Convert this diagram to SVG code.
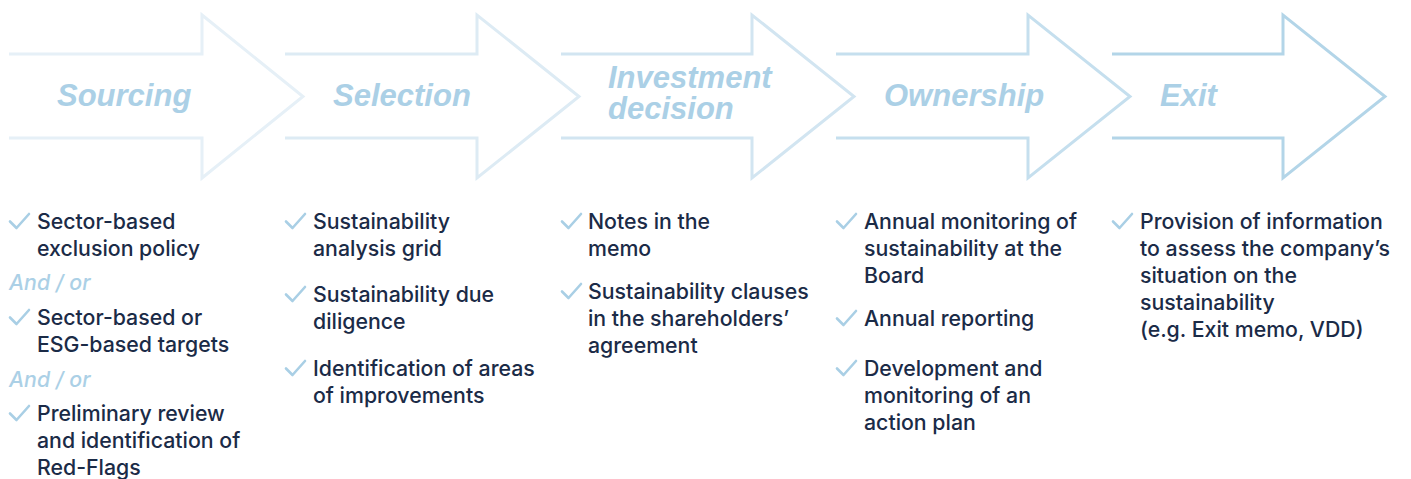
<svg xmlns="http://www.w3.org/2000/svg" width="1411" height="479" viewBox="0 0 1411 479">
<style>
.arrow{fill:none;stroke-width:3;stroke-linejoin:miter}
.lbl{font-family:"Liberation Sans",Arial,sans-serif;font-weight:bold;font-style:italic;font-size:31px;fill:#abd0e6}
.txt{font-family:Inter,"Noto Sans",sans-serif;font-size:21.3px;font-weight:500;fill:#1b2b47}
.alt{font-family:Inter,"Noto Sans",sans-serif;font-size:21.3px;font-weight:500;font-style:italic;fill:#abd0e6}
.chk{fill:none;stroke:#a9cfe5;stroke-width:2.6;stroke-linecap:round;stroke-linejoin:round}
</style>
<defs>
<path id="check" d="M0,7.5 L6.5,14 L19,0"/>
</defs>
<rect width="1411" height="479" fill="#ffffff"/>
<g id="connectors"></g>
<g id="sourcing">
<path class="arrow" stroke="#e6f0f7" d="M9,54 H202 V15 L303,96.5 L202,178 V138 H9"/>
<text class="lbl" x="57" y="106">Sourcing</text>
<g class="chk"><use href="#check" x="10" y="214"/><use href="#check" x="10" y="310"/><use href="#check" x="10" y="406"/></g>
<text class="txt" x="37" y="229">Sector-based</text>
<text class="txt" x="37" y="256">exclusion policy</text>
<text class="alt" x="9" y="290">And / or</text>
<text class="txt" x="37" y="325">Sector-based or</text>
<text class="txt" x="37" y="352">ESG-based targets</text>
<text class="alt" x="9" y="387">And / or</text>
<text class="txt" x="37" y="421">Preliminary review</text>
<text class="txt" x="37" y="448">and identification of</text>
<text class="txt" x="37" y="475">Red-Flags</text>
</g>
<g id="selection">
<path class="arrow" stroke="#ddebf4" d="M285,54 H477 V15 L579,96.5 L477,178 V138 H285"/>
<text class="lbl" x="333" y="106">Selection</text>
<g class="chk"><use href="#check" x="286" y="214"/><use href="#check" x="286" y="287"/><use href="#check" x="286" y="361"/></g>
<text class="txt" x="313" y="229">Sustainability</text>
<text class="txt" x="313" y="256">analysis grid</text>
<text class="txt" x="313" y="302">Sustainability due</text>
<text class="txt" x="313" y="329">diligence</text>
<text class="txt" x="313" y="376">Identification of areas</text>
<text class="txt" x="313" y="403">of improvements</text>
</g>
<g id="investment">
<path class="arrow" stroke="#d2e5f1" d="M561,54 H752 V15 L854,96.5 L752,178 V138 H561"/>
<text class="lbl" x="608" y="88">Investment</text>
<text class="lbl" x="608" y="119">decision</text>
<g class="chk"><use href="#check" x="562" y="214"/><use href="#check" x="562" y="284"/></g>
<text class="txt" x="588" y="229">Notes in the</text>
<text class="txt" x="588" y="256">memo</text>
<text class="txt" x="588" y="299">Sustainability clauses</text>
<text class="txt" x="588" y="326">in the shareholders’</text>
<text class="txt" x="588" y="353">agreement</text>
</g>
<g id="ownership">
<path class="arrow" stroke="#c5dfee" d="M836,54 H1028 V15 L1130,96.5 L1028,178 V138 H836"/>
<text class="lbl" x="884" y="106">Ownership</text>
<g class="chk"><use href="#check" x="837" y="214"/><use href="#check" x="837" y="311"/><use href="#check" x="837" y="361"/></g>
<text class="txt" x="864" y="229">Annual monitoring of</text>
<text class="txt" x="864" y="256">sustainability at the</text>
<text class="txt" x="864" y="283">Board</text>
<text class="txt" x="864" y="326">Annual reporting</text>
<text class="txt" x="864" y="376">Development and</text>
<text class="txt" x="864" y="403">monitoring of an</text>
<text class="txt" x="864" y="430">action plan</text>
</g>
<g id="exit">
<path class="arrow" stroke="#b3d5e8" d="M1112,54 H1283 V15 L1385,96.5 L1283,178 V138 H1112"/>
<text class="lbl" x="1160" y="106">Exit</text>
<g class="chk"><use href="#check" x="1113" y="214"/></g>
<text class="txt" x="1140" y="229">Provision of information</text>
<text class="txt" x="1140" y="256">to assess the company’s</text>
<text class="txt" x="1140" y="283">situation on the</text>
<text class="txt" x="1140" y="310">sustainability</text>
<text class="txt" x="1140" y="337">(e.g. Exit memo, VDD)</text>
</g>
</svg>
